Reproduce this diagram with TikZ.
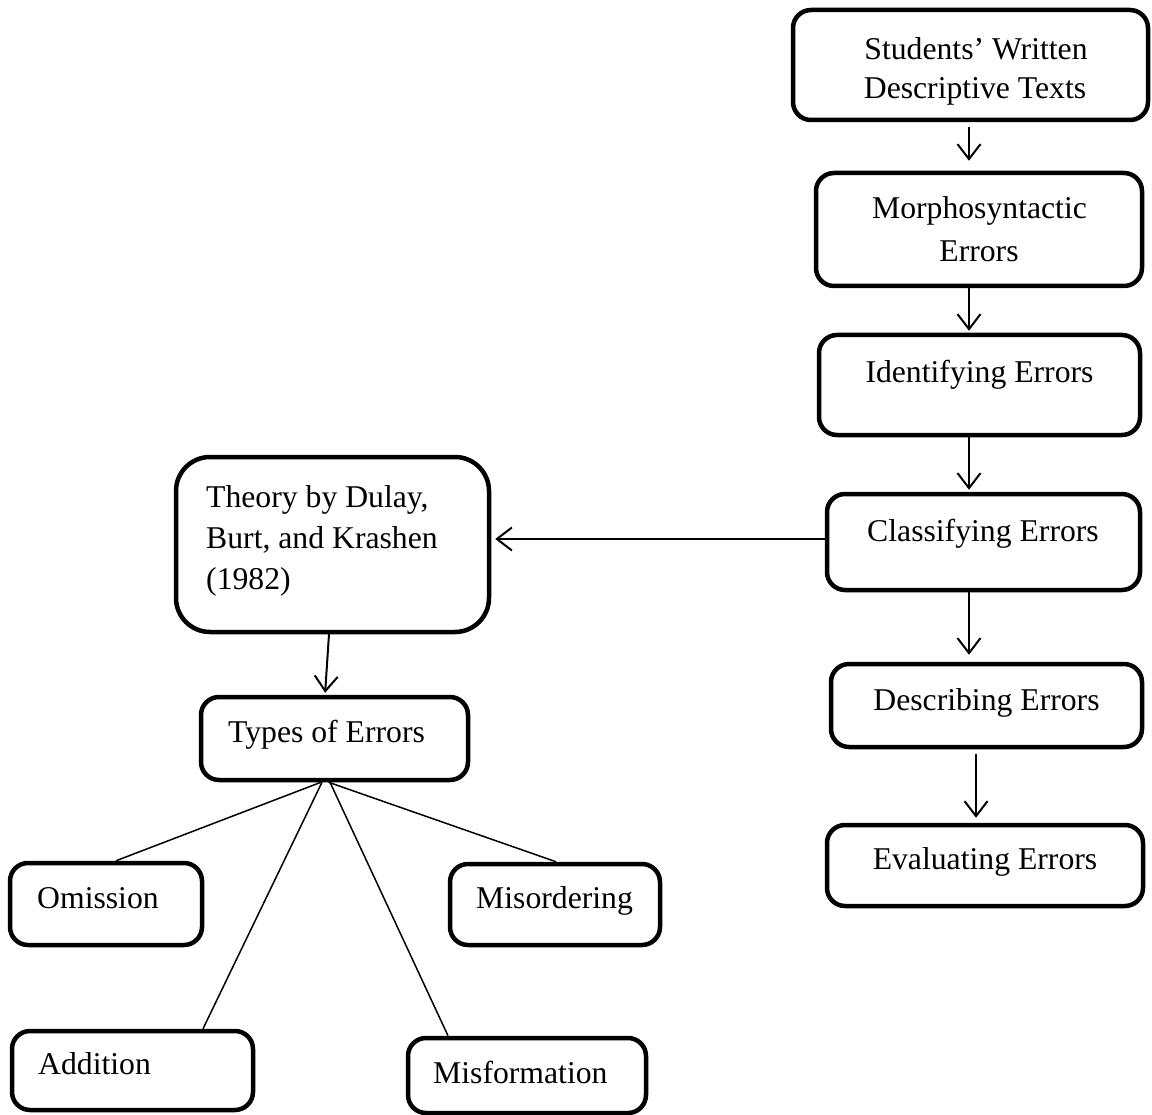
\documentclass[tikz,border=0pt]{standalone}
\usepackage{fontspec}
\setmainfont{Liberation Serif}
\usetikzlibrary{arrows.meta,calc}
\begin{document}
\begin{tikzpicture}[x=1pt,y=-1pt,
  box/.style={draw,line width=4.5pt,rounded corners=18pt,inner sep=0pt},
  lbl/.style={font=\fontsize{31.7}{40}\selectfont,inner sep=0pt,anchor=base},
  lblw/.style={lbl,anchor=base west},
  arr/.style={line width=2pt,-{Straight Barb[length=15pt,width=23pt]}},
  fan/.style={line width=1.5pt}]
\useasboundingbox (0,0) rectangle (1152,1115);

% right column boxes
\node[box,minimum width=355pt,minimum height=110pt] (stud) at (970.5,65) {};
\node[box,minimum width=326pt,minimum height=113pt] (morph) at (979,229.5) {};
\node[box,minimum width=321pt,minimum height=100pt] (ident) at (979.5,385) {};
\node[box,minimum width=313pt,minimum height=96pt] (class) at (983.5,542) {};
\node[box,minimum width=311pt,minimum height=83pt] (desc) at (986.5,705.5) {};
\node[box,minimum width=316pt,minimum height=81pt] (eval) at (985,865.5) {};

% left part boxes
\node[box,rounded corners=34pt,minimum width=313pt,minimum height=175pt] (theory) at (332.5,544.5) {};
\node[box,minimum width=267pt,minimum height=83pt] (types) at (334.5,738.5) {};
\node[box,minimum width=192pt,minimum height=82pt] (omis) at (106,904) {};
\node[box,minimum width=210pt,minimum height=81pt] (misord) at (555,904.5) {};
\node[box,minimum width=241pt,minimum height=79pt] (addit) at (132.5,1070.5) {};
\node[box,minimum width=238pt,minimum height=75pt] (misform) at (527,1075.5) {};

% texts
\node[lbl] (tstudA) at (976,60) {Students’ Written};
\node[lbl] (tstudB) at (975,99) {Descriptive Texts};
\node[lbl] (tmorphA) at (979.5,219) {Morphosyntactic};
\node[lbl] (tmorphB) at (979,262) {Errors};
\node[lbl] (tident) at (979.5,383) {Identifying Errors};
\node[lbl] (tclass) at (983,541) {Classifying Errors};
\node[lbl] (tdesc) at (986.5,710) {Describing Errors};
\node[lbl] (teval) at (985,869) {Evaluating Errors};
\node[lblw] (ttheoA) at (206,507) {Theory by Dulay,};
\node[lblw] (ttheoB) at (206,548) {Burt, and Krashen};
\node[lblw] (ttheoC) at (206,589) {(1982)};
\node[lblw] (ttypes) at (228,742) {Types of Errors};
\node[lblw] (tomis) at (37,908) {Omission};
\node[lblw] (tmisord) at (476,908) {Misordering};
\node[lblw] (taddit) at (38,1074) {Addition};
\node[lblw] (tmisform) at (433,1083) {Misformation};

% arrows right column
\draw[arr,shorten <=5pt,shorten >=10pt] ([xshift=-1.5pt]stud.south) coordinate (a1) -- (a1 |- morph.north);
\draw[arr,shorten >=2pt] ([xshift=-10pt]morph.south) coordinate (a2) -- (a2 |- ident.north);
\draw[arr,shorten >=2pt] ([xshift=-10.5pt]ident.south) coordinate (a3) -- (a3 |- class.north);
\draw[arr,shorten >=7pt] ([xshift=-14.5pt]class.south) coordinate (a4) -- (a4 |- desc.north);
\draw[arr,shorten <=5pt,shorten >=5pt] ([xshift=-10.5pt]desc.south) coordinate (a5) -- (a5 |- eval.north);

% to theory
\draw[arr,shorten >=4pt] ([yshift=3pt]class.west) coordinate (a6) -- (a6 -| theory.east);
\draw[arr,shorten >=2pt] ([xshift=-3.5pt]theory.south) -- ([xshift=-9.5pt]types.north);

% fan
\draw[fan] ([xshift=-13.5pt]types.south) -- ([xshift=10pt]omis.north);
\draw[fan] ([xshift=-6pt]types.south) -- ([xshift=1pt]misord.north);
\draw[fan] ([xshift=-12.5pt]types.south) -- ([xshift=70.5pt]addit.north);
\draw[fan] ([xshift=-4.5pt]types.south) -- ([xshift=-79pt]misform.north);
\end{tikzpicture}
\end{document}
